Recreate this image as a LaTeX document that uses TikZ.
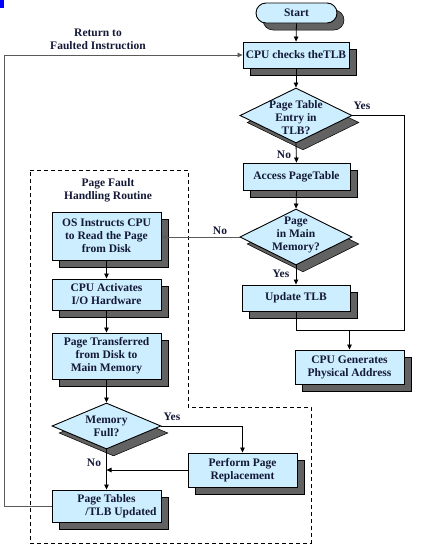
\documentclass[tikz,border=0pt]{standalone}
\usepackage{fontspec}
\setmainfont{Liberation Serif}
\usetikzlibrary{arrows.meta,shapes.geometric,shadows}
\definecolor{boxfill}{RGB}{204,238,255}
\definecolor{shadowgray}{RGB}{98,98,98}
\definecolor{txt}{RGB}{20,25,55}
\definecolor{linegray}{RGB}{90,90,90}
\begin{document}
\begin{tikzpicture}[x=1pt,y=-1pt,
  font=\fontsize{11.5}{13}\selectfont\bfseries, text=txt,
  shad/.style={general shadow={fill=shadowgray, draw=black, line width=0.5pt, shadow xshift=7pt, shadow yshift=-7pt}},
  box/.style={rectangle, draw=black, line width=0.9pt, fill=boxfill, inner sep=0pt, align=center, shad},
  dia/.style={diamond, draw=black, line width=0.9pt, fill=boxfill, inner sep=0pt, shad},
  lab/.style={inner sep=0pt, align=center},
  conn/.style={draw=black, line width=0.8pt},
  arr/.style={conn, -{Triangle[length=5pt,width=4.5pt]}},
  grayarr/.style={arr, draw=linegray},
  dashbox/.style={draw=black, line width=0.7pt, dash pattern=on 4pt off 3pt}]
\useasboundingbox (0,0) rectangle (424,552);
\fill[blue] (0,0) rectangle (4,8);

% right column
\node[box, minimum width=81pt, minimum height=20pt, rounded corners=10pt] (start) at (296.5,13) {Start};
\node[box, minimum width=106pt, minimum height=26pt] (cpu) at (296,55) {CPU checks theTLB};
\node[dia, minimum width=112pt, minimum height=55pt] (d1) at (296,115.5) {};
\node[lab] (d1t) at (296,118) {Page Table\\Entry in\\TLB?};
\node[box, minimum width=107pt, minimum height=27pt] (access) at (296.5,176.5) {Access PageTable};
\node[dia, minimum width=112pt, minimum height=56pt] (d2) at (296,237) {};
\node[lab] (d2t) at (296,235) {Page\\in Main\\Memory?};
\node[box, minimum width=108pt, minimum height=26pt] (update) at (296,298) {Update TLB};
\node[box, minimum width=109pt, minimum height=34pt] (gen) at (349.5,367) {CPU Generates\\Physical Address};

% left column
\draw[dashbox] (30,170) -- (188,170) -- (188,407) -- (311,407) -- (311,543) -- (30,543) -- cycle;
\node[lab] (pfh) at (108,190) {Page Fault\\Handling Routine};
\node[box, minimum width=109pt, minimum height=48pt] (os) at (106.5,236) {OS Instructs CPU\\to Read the Page\\from Disk};
\node[box, minimum width=109pt, minimum height=31pt] (act) at (106.5,294.5) {CPU Activates\\I/O Hardware};
\node[box, minimum width=109pt, minimum height=46pt] (trans) at (106.5,356) {Page Transferred\\from Disk to\\Main Memory};
\node[dia, minimum width=109pt, minimum height=46pt] (d3) at (106.5,426) {};
\node[lab] (d3t) at (d3.center) {Memory\\Full?};
\node[box, minimum width=109pt, minimum height=34pt] (repl) at (242.5,470) {Perform Page\\Replacement};
\node[box, minimum width=109pt, minimum height=32pt] (pt) at (106.5,506) {Page Tables\\\hspace*{29pt}/TLB Updated};

% labels
\node[lab] (ret) at (98,39.5) {Return to\\Faulted Instruction};
\node[lab] (y1) at (362,106) {Yes};
\node[lab] (n1) at (284,155) {No};
\node[lab] (n2) at (220,231) {No};
\node[lab] (y2) at (281,274) {Yes};
\node[lab] (y3) at (172,417) {Yes};
\node[lab] (n3) at (94,463) {No};

% connectors
\coordinate (c1) at (404,330);
\coordinate (c2) at (4,0);
\draw[arr] (start.south) -- (cpu.north);
\draw[arr] (cpu.south) -- (d1.north);
\draw[arr] (d1.south) -- (access.north);
\draw[arr] (access.south) -- (d2.north);
\draw[arr] (d2.south) -- (update.north);
\draw[conn] (d1.east) -| (c1) -- (update.south |- c1) -- (update.south);
\draw[arr] (gen.north |- c1) -- (gen.north);
\draw[grayarr] (d2.west) -- (d2.west -| os.east);
\draw[arr] (os.south) -- (act.north);
\draw[arr] (act.south) -- (trans.north);
\draw[arr] (trans.south) -- (d3.north);
\draw[arr] (d3.east) -| (repl.north);
\draw[arr] (repl.west) -- (repl.west -| d3.south);
\draw[arr] (d3.south) -- (pt.north);
\draw[grayarr] (pt.west) -- (pt.west -| c2) |- (cpu.west);
\end{tikzpicture}
\end{document}
